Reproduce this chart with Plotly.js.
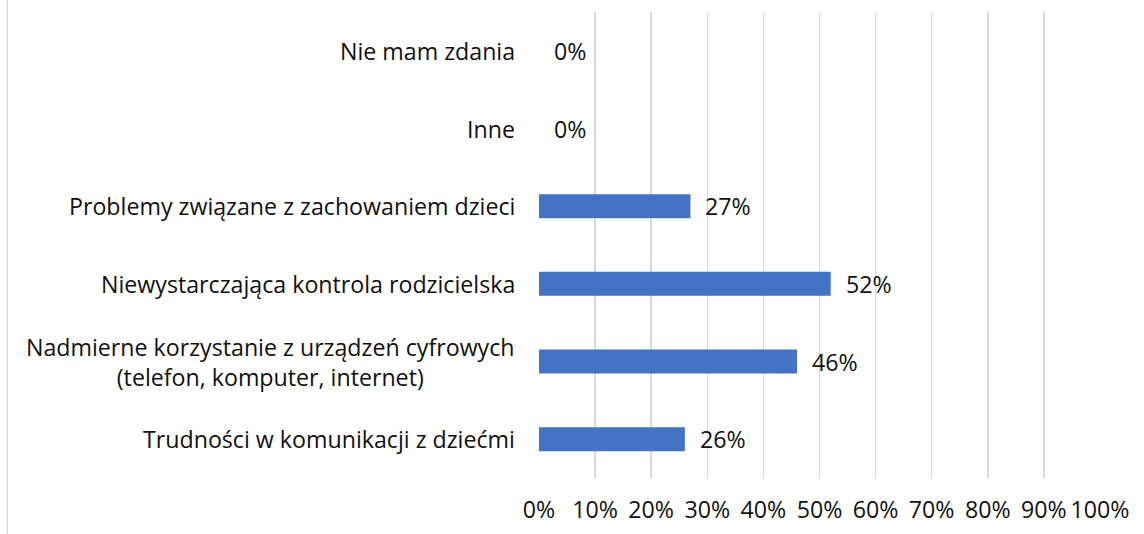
<!DOCTYPE html>
<html><head><meta charset="utf-8">
<script src="https://cdn.plot.ly/plotly-3.0.1.min.js"></script>
<style>html,body{margin:0;padding:0;background:#fff}</style>
</head><body>
<div id="chart" style="width:1144px;height:534px"></div>
<script>
const categories = [
  "Trudności w komunikacji z dziećmi",
  "Nadmierne korzystanie z urządzeń cyfrowych<br>(telefon, komputer, internet)",
  "Niewystarczająca kontrola rodzicielska",
  "Problemy związane z zachowaniem dzieci",
  "Inne",
  "Nie mam zdania"
];
const values = [0.26, 0.46, 0.52, 0.27, 0, 0];
const valueLabels = ["26%", "46%", "52%", "27%", "0%", "0%"];
const tickVals = [0,0.1,0.2,0.3,0.4,0.5,0.6,0.7,0.8,0.9,1.0];
const tickText = ["0%","10%","20%","30%","40%","50%","60%","70%","80%","90%","100%"];

const FONT = "'Open Sans', 'Noto Sans', sans-serif";
const FS = 23.2;
const trace = {
  type: 'bar', orientation: 'h',
  x: values, y: categories,
  marker: {color: '#4472C4', line: {width: 0}},
  hoverinfo: 'none'
};
const annotations = [];
categories.forEach((c, i) => {
  annotations.push({x: values[i], y: c, xref: 'x', yref: 'y', text: valueLabels[i],
    showarrow: false, xanchor: 'left', xshift: 13, font: {family: FONT, size: FS, color: '#111'}});
  annotations.push({x: 0, y: c, xref: 'paper', yref: 'y', text: c, align: 'center',
    showarrow: false, xanchor: 'right', xshift: -22, font: {family: FONT, size: FS, color: '#111'}});
});
const layout = {
  width: 1144, height: 534,
  margin: {l: 539, r: 44, t: 12, b: 56},
  paper_bgcolor: '#fff', plot_bgcolor: '#fff',
  showlegend: false, bargap: 0.69,
  font: {family: FONT, size: FS, color: '#111'},
  xaxis: {range: [0, 1.0], tickvals: tickVals, ticktext: tickText,
    showgrid: true, gridcolor: '#d9d9d9', gridwidth: 1.5, zeroline: false,
    showline: false, ticks: '', ticklabelstandoff: 16, fixedrange: true,
    tickfont: {family: FONT, size: FS, color: '#111'}},
  yaxis: {categoryorder: 'array', categoryarray: categories, showticklabels: false,
    showgrid: false, zeroline: false, showline: false, ticks: '', fixedrange: true},
  annotations: annotations,
  shapes: [{type: 'line', xref: 'paper', yref: 'paper', x0: -0.948, x1: -0.948, y0: -0.2, y1: 1.05,
    line: {color: '#d9d9d9', width: 1.5}}]
};
Plotly.newPlot('chart', [trace], layout, {displayModeBar: false, staticPlot: true});
</script>
</body></html>
